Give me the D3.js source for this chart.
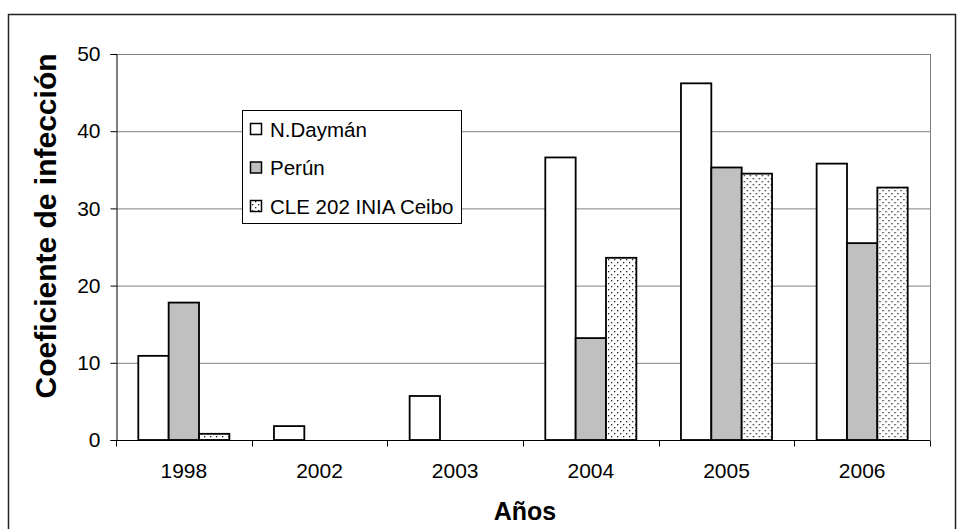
<!DOCTYPE html>
<html>
<head>
<meta charset="utf-8">
<script src="https://cdn.jsdelivr.net/npm/d3@7"></script>
<style>
    body { margin: 0; background: #fff; }
    svg { display: block; font-family: "Liberation Sans", Arial, sans-serif; }
    .tick text { font-size: 21px; fill: #000; }
</style>
</head>
<body>
<svg width="957" height="529"></svg>
<script>
// Chart data
var years = ['1998', '2002', '2003', '2004', '2005', '2006'];
var seriesNames = ['N.Daymán', 'Perún', 'CLE 202 INIA Ceibo'];
var nDayman = [10.9, 1.8, 5.7, 36.6, 46.2, 35.8];
var perun = [17.8, 0, 0, 13.2, 35.3, 25.5];
var ceibo = [0.8, 0, 0, 23.6, 34.5, 32.7];
var yTicks = [0, 10, 20, 30, 40, 50];

var seriesValues = [nDayman, perun, ceibo];
var fills = ['#ffffff', '#c0c0c0', 'url(#dots)'];

var svg = d3.select('svg');

// dotted fill for the third series
var pattern = svg.append('defs').append('pattern')
    .attr('id', 'dots')
    .attr('patternUnits', 'userSpaceOnUse')
    .attr('width', 6)
    .attr('height', 6);
pattern.append('rect').attr('width', 6).attr('height', 6).attr('fill', '#fff');
pattern.append('rect').attr('x', 1).attr('y', 1).attr('width', 1.3).attr('height', 1.3).attr('fill', '#222');
pattern.append('rect').attr('x', 4).attr('y', 4).attr('width', 1.3).attr('height', 1.3).attr('fill', '#222');

// outer chart border
svg.append('rect')
    .attr('x', 8.5).attr('y', 14.5)
    .attr('width', 947).attr('height', 530)
    .attr('fill', 'none')
    .attr('stroke', '#222')
    .attr('stroke-width', 1.5);

var plot = {l: 116, r: 930, t: 54, b: 440};

var x0 = d3.scaleBand()
    .domain(years)
    .range([plot.l, plot.r]);

var x1 = d3.scaleBand()
    .domain(d3.range(seriesNames.length))
    .range([22.3, x0.bandwidth() - 22.3]);

var y = d3.scaleLinear()
    .domain([0, 50])
    .range([plot.b, plot.t]);

// gridlines
svg.append('g')
    .selectAll('line')
    .data(yTicks.slice(1))
    .enter()
    .append('line')
    .attr('x1', plot.l).attr('x2', plot.r)
    .attr('y1', function(d) { return y(d) + 0.5; })
    .attr('y2', function(d) { return y(d) + 0.5; })
    .attr('stroke', '#808080')
    .attr('stroke-width', 1);

// right border of plot area
svg.append('line')
    .attr('x1', plot.r + 0.5).attr('x2', plot.r + 0.5)
    .attr('y1', plot.t).attr('y2', plot.b)
    .attr('stroke', '#808080');

// bars
var groups = svg.append('g')
    .selectAll('g')
    .data(years)
    .enter()
    .append('g')
    .attr('transform', function(d) { return 'translate(' + x0(d) + ',0)'; });

groups.selectAll('rect')
    .data(function(d, i) {
        return seriesValues.map(function(vals, s) { return {s: s, v: vals[i]}; });
    })
    .enter()
    .filter(function(d) { return d.v > 0; })
    .append('rect')
    .attr('x', function(d) { return x1(d.s); })
    .attr('y', function(d) { return y(d.v); })
    .attr('width', x1.bandwidth())
    .attr('height', function(d) { return y(0) - y(d.v); })
    .attr('fill', function(d) { return fills[d.s]; })
    .attr('stroke', '#000')
    .attr('stroke-width', 1.8);

// axes
var yAxis = d3.axisLeft(y).tickValues(yTicks).tickSize(6).tickPadding(10);
svg.append('g')
    .attr('transform', 'translate(' + (plot.l + 0.5) + ',0)')
    .call(yAxis)
    .call(function(g) { g.selectAll('line, path').attr('stroke', '#000'); });

var xAxis = d3.axisBottom(x0).tickSize(0).tickPadding(37.5);
var xg = svg.append('g')
    .attr('transform', 'translate(0,' + (plot.b + 0.5) + ')')
    .call(xAxis);
xg.select('.domain').attr('stroke', '#000').attr('d', 'M' + plot.l + ',0H' + plot.r);
xg.selectAll('.tick text').attr('dy', '0');

// category separator ticks
xg.append('g')
    .selectAll('line')
    .data(years.concat(['end']))
    .enter()
    .append('line')
    .attr('x1', function(d, i) { return Math.round(plot.l + i * x0.step()) + 0.5; })
    .attr('x2', function(d, i) { return Math.round(plot.l + i * x0.step()) + 0.5; })
    .attr('y1', 0).attr('y2', 6)
    .attr('stroke', '#000');

// axis titles
svg.append('text')
    .attr('transform', 'translate(56,226) rotate(-90)')
    .attr('text-anchor', 'middle')
    .style('font-size', '30px')
    .style('font-weight', 'bold')
    .text('Coeficiente de infección');

svg.append('text')
    .attr('x', 525)
    .attr('y', 520)
    .attr('text-anchor', 'middle')
    .style('font-size', '25px')
    .style('font-weight', 'bold')
    .text('Años');

// legend
var legend = svg.append('g').attr('transform', 'translate(242,110)');
legend.append('rect')
    .attr('x', 0.5).attr('y', 0.5)
    .attr('width', 219).attr('height', 113)
    .attr('fill', '#fff')
    .attr('stroke', '#000');

var items = legend.selectAll('.item')
    .data(seriesNames)
    .enter()
    .append('g')
    .attr('class', 'item')
    .attr('transform', function(d, i) { return 'translate(0,' + (19 + i * 38.5) + ')'; });

items.append('rect')
    .attr('x', 8.5).attr('y', -5.5)
    .attr('width', 11).attr('height', 11)
    .attr('fill', function(d, i) { return fills[i]; })
    .attr('stroke', '#000')
    .attr('stroke-width', 1.5);

items.append('text')
    .attr('x', 28)
    .attr('y', 7.5)
    .style('font-size', '20.5px')
    .text(function(d) { return d; });
</script>
</body>
</html>
